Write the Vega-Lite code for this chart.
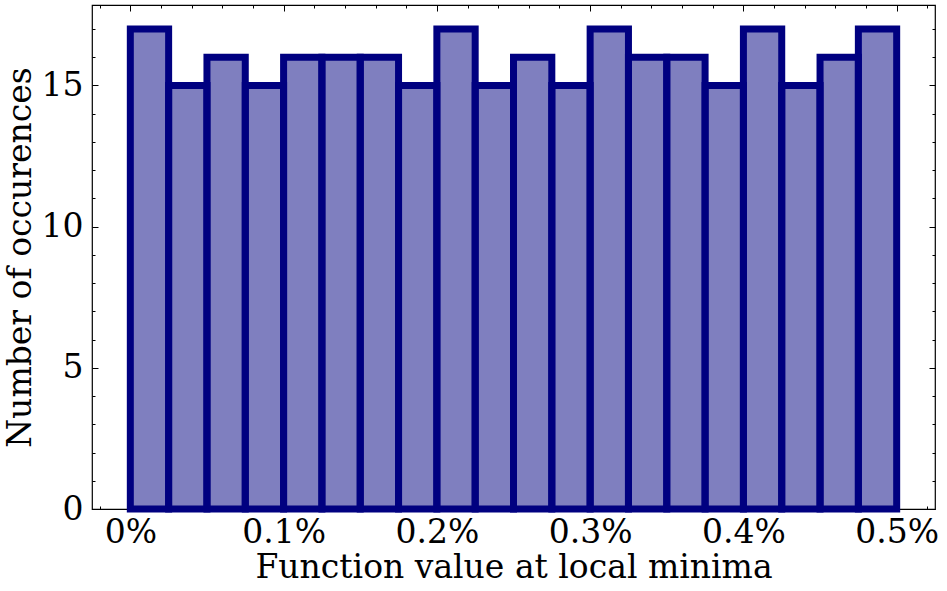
{
  "$schema": "https://vega.github.io/schema/vega-lite/v6.json",
  "width": 843,
  "height": 504,
  "autosize": {"type": "none"},
  "padding": {"left": 92, "top": 5, "right": 12, "bottom": 82},
  "config": {
    "view": {"stroke": "#000000", "strokeWidth": 1.2},
    "font": "DejaVu Serif",
    "axis": {
      "domain": false,
      "grid": false,
      "tickColor": "#000000",
      "tickWidth": 1,
      "labelFont": "DejaVu Serif",
      "titleFont": "DejaVu Serif",
      "labelFontSize": 33,
      "titleFontSize": 33,
      "labelColor": "#000000",
      "titleColor": "#000000",
      "titleFontWeight": "normal",
      "labelFlush": false,
      "labelOverlap": false,
      "zindex": 1
    }
  },
  "data": {
    "values": [
      {"start": 0.000, "end": 0.025, "count": 17},
      {"start": 0.025, "end": 0.050, "count": 15},
      {"start": 0.050, "end": 0.075, "count": 16},
      {"start": 0.075, "end": 0.100, "count": 15},
      {"start": 0.100, "end": 0.125, "count": 16},
      {"start": 0.125, "end": 0.150, "count": 16},
      {"start": 0.150, "end": 0.175, "count": 16},
      {"start": 0.175, "end": 0.200, "count": 15},
      {"start": 0.200, "end": 0.225, "count": 17},
      {"start": 0.225, "end": 0.250, "count": 15},
      {"start": 0.250, "end": 0.275, "count": 16},
      {"start": 0.275, "end": 0.300, "count": 15},
      {"start": 0.300, "end": 0.325, "count": 17},
      {"start": 0.325, "end": 0.350, "count": 16},
      {"start": 0.350, "end": 0.375, "count": 16},
      {"start": 0.375, "end": 0.400, "count": 15},
      {"start": 0.400, "end": 0.425, "count": 17},
      {"start": 0.425, "end": 0.450, "count": 15},
      {"start": 0.450, "end": 0.475, "count": 16},
      {"start": 0.475, "end": 0.500, "count": 17}
    ]
  },
  "layer": [
    {
      "mark": {"type": "bar", "opacity": 0},
      "encoding": {
        "x": {"field": "start", "type": "quantitative", "axis": {"orient": "bottom", "values": [-0.02, 0.02, 0.04, 0.06, 0.08, 0.12, 0.14, 0.16, 0.18, 0.22, 0.24, 0.26, 0.28, 0.32, 0.34, 0.36, 0.38, 0.42, 0.44, 0.46, 0.48, 0.52], "labels": false, "title": null, "tickSize": 3, "offset": -3}},
        "x2": {"field": "end"},
        "y": {"field": "count", "type": "quantitative", "axis": {"orient": "left", "values": [1, 2, 3, 4, 6, 7, 8, 9, 11, 12, 13, 14, 16, 17], "labels": false, "title": null, "tickSize": 3, "offset": -3}},
        "y2": {"datum": 0}
      }
    },
    {
      "mark": {"type": "bar", "opacity": 0},
      "encoding": {
        "x": {"field": "start", "type": "quantitative", "axis": {"orient": "top", "values": [-0.02, 0.02, 0.04, 0.06, 0.08, 0.12, 0.14, 0.16, 0.18, 0.22, 0.24, 0.26, 0.28, 0.32, 0.34, 0.36, 0.38, 0.42, 0.44, 0.46, 0.48, 0.52], "labels": false, "title": null, "tickSize": 3, "offset": -3}},
        "x2": {"field": "end"},
        "y": {"field": "count", "type": "quantitative", "axis": {"orient": "right", "values": [1, 2, 3, 4, 6, 7, 8, 9, 11, 12, 13, 14, 16, 17], "labels": false, "title": null, "tickSize": 3, "offset": -3}},
        "y2": {"datum": 0}
      }
    },
    {
      "mark": {"type": "bar", "opacity": 0},
      "encoding": {
        "x": {"field": "start", "type": "quantitative", "axis": {"orient": "top", "values": [0, 0.1, 0.2, 0.3, 0.4, 0.5], "labels": false, "title": null, "tickSize": 6, "offset": -6}},
        "x2": {"field": "end"},
        "y": {"field": "count", "type": "quantitative", "axis": {"orient": "right", "values": [0, 5, 10, 15], "labels": false, "title": null, "tickSize": 6, "offset": -6}},
        "y2": {"datum": 0}
      }
    },
    {
      "mark": {"type": "bar", "opacity": 0},
      "encoding": {
        "x": {"field": "start", "type": "quantitative", "axis": {"orient": "bottom", "values": [0, 0.1, 0.2, 0.3, 0.4, 0.5], "labels": false, "title": null, "tickSize": 6, "offset": -6}},
        "x2": {"field": "end"},
        "y": {"field": "count", "type": "quantitative", "axis": {"orient": "left", "values": [0, 5, 10, 15], "labels": false, "title": null, "tickSize": 6, "offset": -6}},
        "y2": {"datum": 0}
      }
    },
    {
      "mark": {"type": "bar", "fill": "#000080", "fillOpacity": 0.5, "stroke": "#000080", "strokeWidth": 7, "strokeJoin": "miter"},
      "encoding": {
        "x": {
          "field": "start",
          "type": "quantitative",
          "scale": {"domain": [-0.025, 0.525], "nice": false, "zero": false},
          "axis": {"orient": "bottom", "values": [0, 0.1, 0.2, 0.3, 0.4, 0.5], "labelExpr": "format(datum.value, '~g') + '%'", "ticks": false, "labelPadding": 7, "title": "Function value at local minima", "titlePadding": 2, "zindex": 0}
        },
        "x2": {"field": "end"},
        "y": {
          "field": "count",
          "type": "quantitative",
          "scale": {"domain": [0, 17.85], "nice": false},
          "axis": {"orient": "left", "values": [0, 5, 10, 15], "ticks": false, "labelPadding": 9, "title": "Number of occurences", "titlePadding": 4, "zindex": 0}
        },
        "y2": {"datum": 0}
      }
    }
  ],
  "resolve": {"axis": {"x": "independent", "y": "independent"}}
}
